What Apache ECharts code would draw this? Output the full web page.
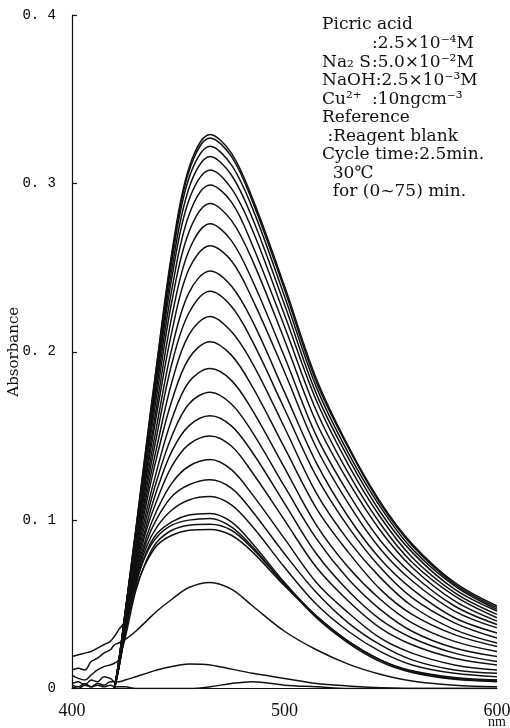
<!DOCTYPE html>
<html>
<head>
<meta charset="utf-8">
<title>Absorbance spectra</title>
<script src="https://cdn.jsdelivr.net/npm/echarts/dist/echarts.min.js"></script>
<style>
  html, body { margin: 0; padding: 0; background: #fff; }
  #main { width: 510px; height: 728px; }
</style>
</head>
<body>
<div id="main"></div>
<script>
// Wavelength grid (nm) shared by every scan
const wavelengths = [400, 403, 406, 409, 412, 415, 418, 420, 422, 425, 430, 435, 440, 447, 455, 465, 475, 485, 500, 515, 530, 545, 560, 580, 600];

// Absorbance of each repeated scan (null = not recorded on scale)
const curve01 = [0.002, 0.001, 0.003, 0.001, 0.002, 0.001, 0.002, 0.001, 0.001, 0.001, 0.000, 0.000, 0.000, 0.000, 0.000, 0.001, 0.003, 0.004, 0.002, 0.001, 0.000, 0.000, 0.000, 0.000, 0.000];
const curve02 = [0.001, 0.000, 0.002, 0.001, 0.003, 0.002, 0.004, 0.004, 0.004, 0.005, 0.007, 0.009, 0.011, 0.013, 0.0145, 0.014, 0.0115, 0.009, 0.006, 0.003, 0.0015, 0.0005, 0.000, 0.000, 0.000];
const curve03 = [0.011, 0.012, 0.011, 0.016, 0.018, 0.021, 0.023, 0.026, 0.027, 0.029, 0.034, 0.040, 0.046, 0.053, 0.060, 0.063, 0.059, 0.049, 0.034, 0.023, 0.0145, 0.0085, 0.0045, 0.002, 0.001];
const curve04 = [0.019, 0.020, 0.021, 0.022, 0.024, 0.026, 0.028, 0.031, 0.035, 0.040, 0.060, 0.075, 0.085, 0.091, 0.094, 0.0945, 0.091, 0.081, 0.061, 0.043, 0.028, 0.017, 0.0105, 0.0065, 0.005];
const curve05 = [0.008, 0.006, 0.005, 0.008, 0.011, 0.013, 0.014, 0.015, 0.017, 0.030, 0.058, 0.076, 0.087, 0.094, 0.097, 0.0976, 0.094, 0.083, 0.062, 0.043, 0.028, 0.017, 0.010, 0.006, 0.004];
const curve06 = [0.003, 0.004, 0.002, 0.005, 0.004, 0.007, 0.006, 0.004, 0.012, 0.033, 0.062, 0.080, 0.090, 0.097, 0.100, 0.101, 0.096, 0.084, 0.062, 0.042, 0.027, 0.016, 0.0095, 0.0055, 0.0045];
const curve07 = [null, null, null, null, null, null, null, 0, 0.012, 0.033, 0.062, 0.081, 0.092, 0.099, 0.103, 0.104, 0.099, 0.086, 0.063, 0.043, 0.028, 0.017, 0.010, 0.006, 0.005];
const curve08 = [null, null, null, null, null, null, null, 0, 0.012, 0.034, 0.064, 0.084, 0.096, 0.106, 0.112, 0.114, 0.109, 0.096, 0.072, 0.050, 0.034, 0.022, 0.014, 0.009, 0.007];
const curve09 = [null, null, null, null, null, null, null, 0, 0.012, 0.034, 0.065, 0.087, 0.101, 0.114, 0.121, 0.124, 0.119, 0.105, 0.080, 0.057, 0.039, 0.026, 0.017, 0.011, 0.009];
const curve10 = [null, null, null, null, null, null, null, 0, 0.013, 0.035, 0.067, 0.090, 0.106, 0.122, 0.132, 0.136, 0.130, 0.115, 0.089, 0.063, 0.045, 0.030, 0.021, 0.014, 0.011];
const curve11 = [null, null, null, null, null, null, null, 0, 0.013, 0.036, 0.069, 0.094, 0.112, 0.132, 0.145, 0.150, 0.144, 0.128, 0.100, 0.072, 0.052, 0.036, 0.026, 0.018, 0.014];
const curve12 = [null, null, null, null, null, null, null, 0, 0.013, 0.036, 0.071, 0.097, 0.118, 0.141, 0.156, 0.162, 0.156, 0.140, 0.110, 0.080, 0.058, 0.041, 0.030, 0.021, 0.016];
const curve13 = [null, null, null, null, null, null, null, 0, 0.013, 0.037, 0.073, 0.101, 0.124, 0.150, 0.169, 0.176, 0.169, 0.152, 0.120, 0.089, 0.065, 0.047, 0.034, 0.024, 0.019];
const curve14 = [null, null, null, null, null, null, null, 0, 0.014, 0.038, 0.075, 0.105, 0.130, 0.160, 0.182, 0.190, 0.183, 0.165, 0.131, 0.097, 0.072, 0.053, 0.039, 0.028, 0.022];
const curve15 = [null, null, null, null, null, null, null, 0, 0.014, 0.039, 0.077, 0.110, 0.138, 0.171, 0.196, 0.206, 0.198, 0.179, 0.143, 0.107, 0.081, 0.059, 0.044, 0.032, 0.025];
const curve16 = [null, null, null, null, null, null, null, 0, 0.014, 0.039, 0.079, 0.114, 0.144, 0.182, 0.210, 0.221, 0.212, 0.193, 0.155, 0.116, 0.088, 0.066, 0.049, 0.035, 0.027];
const curve17 = [null, null, null, null, null, null, null, 0, 0.014, 0.040, 0.081, 0.118, 0.151, 0.193, 0.223, 0.236, 0.227, 0.206, 0.166, 0.126, 0.096, 0.072, 0.054, 0.039, 0.030];
const curve18 = [null, null, null, null, null, null, null, 0, 0.015, 0.041, 0.083, 0.122, 0.157, 0.202, 0.235, 0.248, 0.239, 0.218, 0.176, 0.134, 0.102, 0.077, 0.059, 0.042, 0.033];
const curve19 = [null, null, null, null, null, null, null, 0, 0.015, 0.042, 0.085, 0.126, 0.164, 0.212, 0.249, 0.263, 0.254, 0.231, 0.188, 0.143, 0.110, 0.083, 0.064, 0.046, 0.036];
const curve20 = [null, null, null, null, null, null, null, 0, 0.015, 0.042, 0.087, 0.129, 0.169, 0.221, 0.260, 0.276, 0.266, 0.242, 0.197, 0.150, 0.116, 0.088, 0.068, 0.049, 0.038];
const curve21 = [null, null, null, null, null, null, null, 0, 0.015, 0.043, 0.088, 0.133, 0.175, 0.230, 0.271, 0.288, 0.278, 0.254, 0.207, 0.158, 0.123, 0.094, 0.072, 0.052, 0.040];
const curve22 = [null, null, null, null, null, null, null, 0, 0.016, 0.044, 0.090, 0.136, 0.180, 0.237, 0.281, 0.299, 0.289, 0.263, 0.215, 0.165, 0.128, 0.098, 0.075, 0.055, 0.042];
const curve23 = [null, null, null, null, null, null, null, 0, 0.016, 0.044, 0.091, 0.138, 0.184, 0.244, 0.290, 0.308, 0.297, 0.272, 0.222, 0.171, 0.133, 0.102, 0.078, 0.057, 0.044];
const curve24 = [null, null, null, null, null, null, null, 0, 0.016, 0.044, 0.092, 0.141, 0.187, 0.249, 0.297, 0.316, 0.305, 0.279, 0.228, 0.175, 0.137, 0.105, 0.081, 0.059, 0.046];
const curve25 = [null, null, null, null, null, null, null, 0, 0.016, 0.045, 0.093, 0.142, 0.190, 0.254, 0.303, 0.322, 0.311, 0.285, 0.233, 0.179, 0.140, 0.108, 0.083, 0.061, 0.047];
const curve26 = [null, null, null, null, null, null, null, 0, 0.016, 0.045, 0.094, 0.144, 0.193, 0.257, 0.307, 0.327, 0.316, 0.289, 0.237, 0.182, 0.143, 0.110, 0.085, 0.062, 0.048];
const curve27 = [null, null, null, null, null, null, null, 0, 0.016, 0.045, 0.094, 0.145, 0.194, 0.259, 0.309, 0.329, 0.318, 0.291, 0.239, 0.184, 0.144, 0.111, 0.086, 0.063, 0.049];

const curves = [curve01, curve02, curve03, curve04, curve05, curve06, curve07, curve08, curve09,
  curve10, curve11, curve12, curve13, curve14, curve15, curve16, curve17, curve18, curve19,
  curve20, curve21, curve22, curve23, curve24, curve25, curve26, curve27];

// Axis tick labels
const xTickValues = [400, 500, 600];
const xTickLabels = ['400', '500', '600'];
const yTickValues = [0, 0.1, 0.2, 0.3, 0.4];
const yTickLabels = ['0', '0. 1', '0. 2', '0. 3', '0. 4'];

// Measurement conditions printed in the upper right corner
const noteRows = [
  ['Picric acid', ''],
  ['', ':2.5×10⁻⁴M'],
  ['Na₂ S', ':5.0×10⁻²M'],
  ['NaOH:2.5×10⁻³M', ''],
  ['Cu²⁺', ':10ngcm⁻³'],
  ['Reference', ''],
  [' :Reagent blank', ''],
  ['Cycle time:2.5min.', ''],
  ['  30℃', ''],
  ['  for (0~75) min.', '']
];

const ink = '#111';
const noteFont = '17px "DejaVu Serif", "Noto Sans CJK JP", serif';

const chart = echarts.init(document.getElementById('main'), null, { renderer: 'canvas' });

const series = curves.map(c => ({
  type: 'line',
  data: wavelengths.map((w, i) => [w, c[i]]).filter(p => p[1] !== null),
  showSymbol: false,
  smooth: 0.35,
  silent: true,
  lineStyle: { color: ink, width: 1.5 }
}));

const graphics = [];
noteRows.forEach((row, i) => {
  const y = 25 + i * 18.55;
  if (row[0]) {
    graphics.push({ type: 'text', x: 322, y: y,
      style: { text: row[0], font: noteFont, fill: ink, verticalAlign: 'middle' } });
  }
  if (row[1]) {
    graphics.push({ type: 'text', x: 372, y: y,
      style: { text: row[1], font: noteFont, fill: ink, verticalAlign: 'middle' } });
  }
});
graphics.push({ type: 'text', x: 497, y: 722,
  style: { text: 'nm', font: '14px "Liberation Serif", serif', fill: ink, align: 'center', verticalAlign: 'middle' } });

chart.setOption({
  animation: false,
  backgroundColor: '#fff',
  grid: { left: 72, right: 13, top: 15, bottom: 39.5, containLabel: false, outerBoundsMode: 'none' },
  xAxis: {
    type: 'value', min: 400, max: 600, interval: 100,
    axisLine: { show: true, onZero: false, lineStyle: { color: ink, width: 1.2 } },
    axisTick: { show: false },
    splitLine: { show: false },
    axisLabel: {
      margin: 14, color: ink, fontSize: 18, fontFamily: '"Liberation Serif", serif',
      formatter: v => xTickLabels[xTickValues.indexOf(v)]
    }
  },
  yAxis: {
    type: 'value', min: 0, max: 0.4, interval: 0.1,
    name: 'Absorbance', nameLocation: 'middle', nameGap: 50, nameMoveOverlap: false,
    nameTextStyle: { color: ink, fontSize: 15, fontFamily: '"DejaVu Serif", serif' },
    axisLine: { show: true, lineStyle: { color: ink, width: 1.2 } },
    axisTick: { show: true, inside: true, length: 5, lineStyle: { color: ink, width: 1.2 } },
    splitLine: { show: false },
    axisLabel: {
      margin: 16, color: '#000', fontSize: 14, fontFamily: '"Liberation Mono", monospace',
      formatter: v => yTickLabels[yTickValues.indexOf(Math.round(v * 10) / 10)]
    }
  },
  graphic: graphics,
  series: series
});
</script>
</body>
</html>
